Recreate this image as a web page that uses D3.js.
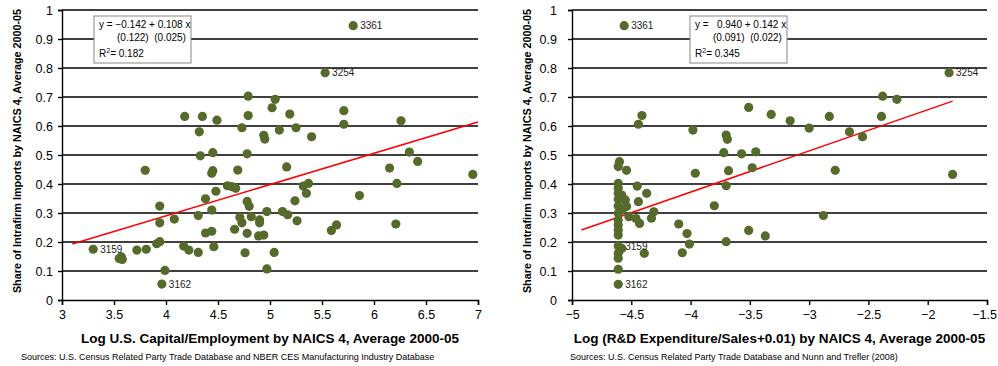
<!DOCTYPE html>
<html>
<head>
<meta charset="utf-8">
<script src="https://cdn.jsdelivr.net/npm/d3@7"></script>
<style>
  body { margin: 0; background: #fff; }
  svg { display: block; font-family: "Liberation Sans", Arial, sans-serif; }
</style>
</head>
<body>
<script>
// Left panel: log capital/employment vs intrafirm import share
// first four points carry industry labels
const capTags = ["3361", "3254", "3159", "3162"];
const capX = [5.80, 5.53, 3.30, 3.96,
  4.79, 5.05, 5.02, 4.18, 4.35, 4.49, 4.79, 5.19, 5.71, 5.71, 6.26,
  4.32, 4.73, 4.94, 4.95, 5.09, 5.25, 5.40, 4.33, 4.45, 4.78, 6.34, 6.42,
  3.80, 4.45, 4.44, 4.69, 5.16, 6.15, 6.95, 4.59, 4.63, 4.67, 4.48, 5.32,
  5.37, 5.35, 6.22, 5.86, 4.38, 4.78, 4.80, 5.24, 3.94, 4.44, 4.97, 5.12,
  5.17, 4.08, 4.31, 4.71, 4.73, 4.82, 4.90, 4.90, 5.26, 6.21, 3.94, 4.38,
  4.44, 4.66, 4.78, 4.89, 4.94, 5.59, 5.64, 3.91, 3.94, 3.72, 3.81, 3.57,
  3.58, 3.55, 4.17, 4.22, 4.31, 4.46, 4.76, 5.04, 3.99, 4.97];
const capY = [0.946, 0.784, 0.175, 0.055,
  0.703, 0.692, 0.663, 0.633, 0.633, 0.620, 0.636, 0.641, 0.653, 0.606, 0.618,
  0.580, 0.594, 0.568, 0.555, 0.586, 0.594, 0.563, 0.497, 0.508, 0.504, 0.510, 0.478,
  0.447, 0.446, 0.437, 0.448, 0.459, 0.455, 0.433, 0.394, 0.391, 0.385, 0.375, 0.393,
  0.402, 0.368, 0.402, 0.360, 0.349, 0.340, 0.323, 0.342, 0.324, 0.310, 0.305, 0.305,
  0.294, 0.279, 0.291, 0.285, 0.266, 0.287, 0.276, 0.266, 0.273, 0.262, 0.266, 0.231,
  0.237, 0.244, 0.230, 0.221, 0.224, 0.240, 0.259, 0.194, 0.201, 0.172, 0.175, 0.149,
  0.140, 0.143, 0.186, 0.172, 0.164, 0.184, 0.163, 0.164, 0.102, 0.107];

// Right panel: log R&D intensity vs intrafirm import share
const rdTags = ["3361", "3254", "3159", "3162"];
const rdX = [-4.56, -1.82, -4.61, -4.61,
  -2.38, -2.26, -3.51, -4.41, -4.44, -3.32, -3.16, -3.00, -2.83, -2.39, -3.98,
  -3.70, -3.69, -2.66, -2.55, -3.72, -3.57, -3.45, -4.60, -4.61, -4.54, -3.48,
  -2.78, -1.79, -3.96, -3.68, -4.61, -4.61, -4.45, -4.61, -4.58, -4.37, -3.70,
  -4.61, -4.55, -4.44, -4.54, -3.80, -4.58, -4.61, -4.31, -4.52, -4.46, -4.33,
  -4.43, -4.61, -4.61, -4.61, -4.61, -4.10, -2.88, -4.03, -3.51, -3.37, -3.70,
  -4.01, -4.07, -4.39, -4.58, -4.61, -4.61, -4.61, -4.61];
const rdY = [0.946, 0.784, 0.186, 0.054,
  0.703, 0.692, 0.664, 0.636, 0.606, 0.640, 0.618, 0.593, 0.633, 0.633, 0.586,
  0.569, 0.554, 0.580, 0.563, 0.508, 0.504, 0.511, 0.477, 0.460, 0.447, 0.456,
  0.447, 0.433, 0.437, 0.446, 0.402, 0.385, 0.393, 0.368, 0.362, 0.368, 0.394,
  0.347, 0.345, 0.339, 0.322, 0.325, 0.310, 0.299, 0.304, 0.287, 0.281, 0.282,
  0.264, 0.276, 0.259, 0.241, 0.224, 0.262, 0.291, 0.229, 0.240, 0.221, 0.201,
  0.193, 0.163, 0.161, 0.178, 0.161, 0.144, 0.106, 0.324];

const yTicks = [0, 0.1, 0.2, 0.3, 0.4, 0.5, 0.6, 0.7, 0.8, 0.9, 1];
const capTicks = [3, 3.5, 4, 4.5, 5, 5.5, 6, 6.5, 7];
const rdTicks = [-5, -4.5, -4, -3.5, -3, -2.5, -2, -1.5];

const capEq = ["y = \u22120.142 + 0.108 x", "(0.122)  (0.025)", "0.182"];
const rdEq = ["y =   0.940 + 0.142 x", "(0.091)  (0.022)", "0.345"];
const capFit = { a: -0.142, b: 0.108, from: 3.1, to: 7.0 };
const rdFit = { a: 0.940, b: 0.142, from: -4.92, to: -1.79 };

const yTitle = "Share of Intrafirm Imports by NAICS 4, Average 2000-05";

const svg = d3.select("body").append("svg")
  .attr("width", 998)
  .attr("height", 366);

function panel(o) {
  const x = d3.scaleLinear().domain(o.domain).range([o.left, o.right]);
  const y = d3.scaleLinear().domain([0, 1]).range([300, 10]);
  const g = svg.append("g");

  // horizontal gridlines
  g.selectAll(".grid")
    .data(yTicks.slice(1))
    .enter().append("line")
    .attr("x1", o.left).attr("x2", o.right)
    .attr("y1", d => y(d)).attr("y2", d => y(d))
    .attr("stroke", "#000").attr("stroke-width", 1.4);

  // x axis
  const xa = g.append("g")
    .attr("transform", "translate(0,300)")
    .call(d3.axisBottom(x).tickValues(o.ticks).tickSize(5).tickPadding(5)
      .tickFormat(d => d3.format("")(d).replace("-", "\u2212")));
  xa.select(".domain").attr("stroke-width", 1.4);
  xa.selectAll("line").attr("stroke-width", 1.4);
  xa.selectAll("text").style("font-size", "12.5px").attr("fill", "#000");
  // keep the last label inside the window
  xa.selectAll("text").filter(d => d === o.ticks[o.ticks.length - 1])
    .attr("dx", o.lastShift);

  // y axis
  const ya = g.append("g")
    .attr("transform", "translate(" + o.left + ",0)")
    .call(d3.axisLeft(y).tickValues(yTicks).tickSize(4).tickPadding(o.yPad)
      .tickFormat(d3.format("")));
  ya.select(".domain").attr("stroke-width", 1.4);
  ya.selectAll("line").attr("stroke-width", 1.4);
  ya.selectAll("text").style("font-size", "12.5px").attr("fill", "#000");

  // fitted line
  g.append("line")
    .attr("x1", x(o.fit.from)).attr("y1", y(o.fit.a + o.fit.b * o.fit.from))
    .attr("x2", x(o.fit.to)).attr("y2", y(o.fit.a + o.fit.b * o.fit.to))
    .attr("stroke", "#ff0000").attr("stroke-width", 1.5);

  // dots
  g.selectAll(".dot")
    .data(o.xs.map((v, i) => [v, o.ys[i]]))
    .enter().append("circle")
    .attr("cx", d => x(d[0]))
    .attr("cy", d => y(d[1]))
    .attr("r", 4.6)
    .attr("fill", "#566a2c");

  // point labels
  g.selectAll(".tag")
    .data(o.tags)
    .enter().append("text")
    .attr("x", (d, i) => x(o.xs[i]) + 7)
    .attr("y", (d, i) => y(o.ys[i]) + 3.5)
    .style("font-size", "10px")
    .attr("fill", "#222")
    .text(d => d);

  // equation box
  const bx = o.box;
  g.append("rect")
    .attr("x", bx).attr("y", 16).attr("width", 97).attr("height", 47)
    .attr("fill", "#fff").attr("stroke", "#888").attr("stroke-width", 1);
  g.append("text").attr("x", bx + 5).attr("y", 28)
    .style("font-size", "10px").style("white-space", "pre").attr("xml:space", "preserve")
    .text(o.eq[0]);
  g.append("text").attr("x", bx + o.eq2).attr("y", 41)
    .style("font-size", "10px").attr("xml:space", "preserve")
    .text(o.eq[1]);
  const r2 = g.append("text").attr("x", bx + 5).attr("y", 57)
    .style("font-size", "10px");
  r2.append("tspan").text("R");
  r2.append("tspan").attr("dy", -4).style("font-size", "7px").text("2");
  r2.append("tspan").attr("dy", 4).text("= " + o.eq[2]);

  // axis titles
  g.append("text")
    .attr("x", (o.left + o.right) / 2).attr("y", 343)
    .attr("text-anchor", "middle")
    .style("font-size", "13.5px").style("font-weight", "bold")
    .text(o.xTitle);
  g.append("text")
    .attr("transform", "translate(" + o.yTitleX + ",151) rotate(-90)")
    .attr("text-anchor", "middle")
    .style("font-size", "10.8px").style("font-weight", "bold")
    .text(yTitle);

  g.append("text")
    .attr("x", o.srcX).attr("y", 360)
    .style("font-size", "9px")
    .text(o.source);
}

panel({
  domain: [3, 7], left: 62, right: 478, ticks: capTicks, yPad: 5, lastShift: 0,
  xs: capX, ys: capY, tags: capTags, fit: capFit, eq: capEq, box: 94, eq2: 23,
  xTitle: "Log U.S. Capital/Employment by NAICS 4, Average 2000-05",
  yTitleX: 21, srcX: 21,
  source: "Sources: U.S. Census Related Party Trade Database and NBER CES Manufacturing Industry Database"
});

panel({
  domain: [-5, -1.5], left: 572, right: 987, ticks: rdTicks, yPad: 11, lastShift: -3,
  xs: rdX, ys: rdY, tags: rdTags, fit: rdFit, eq: rdEq, box: 690, eq2: 23,
  xTitle: "Log (R&D Expenditure/Sales+0.01) by NAICS 4, Average 2000-05",
  yTitleX: 531, srcX: 570,
  source: "Sources: U.S. Census Related Party Trade Database and Nunn and Trefler (2008)"
});
</script>
</body>
</html>
